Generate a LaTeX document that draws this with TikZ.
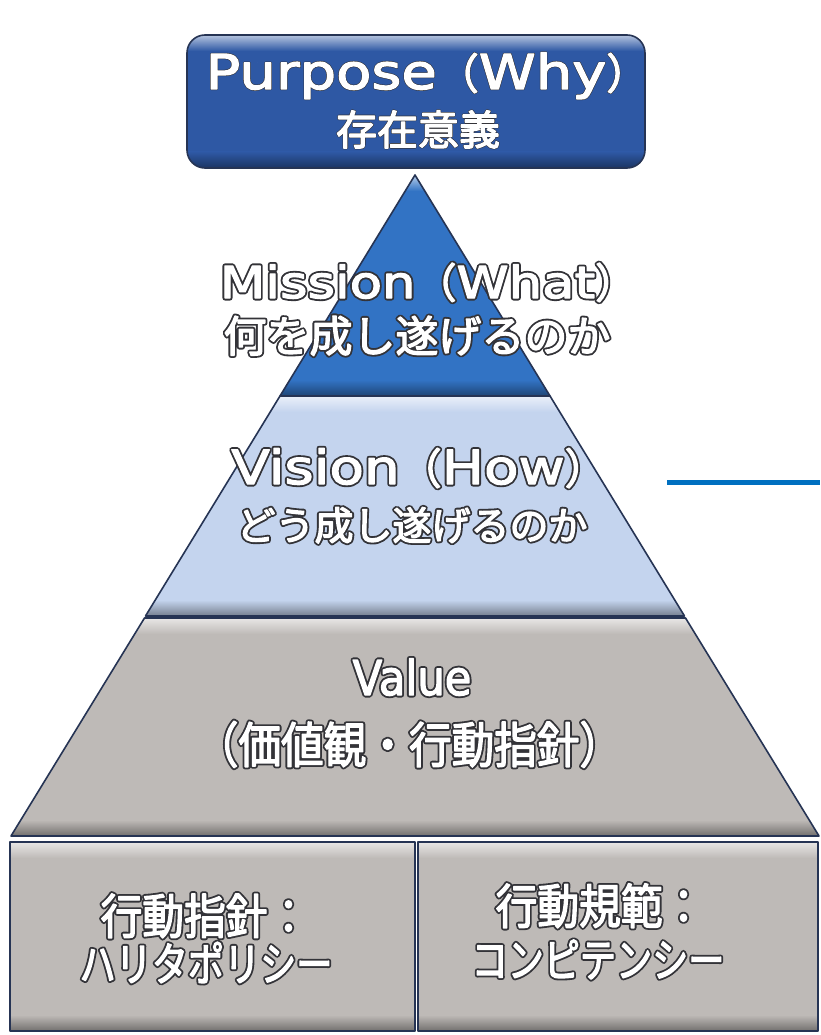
\documentclass[tikz,border=0pt]{standalone}
\usepackage{fontspec}
\newfontfamily\cjk{Noto Sans CJK JP}
\newfontfamily\cjkn[FakeStretch=0.87]{Noto Sans CJK JP}
\newfontfamily\cjkk[FakeStretch=0.785]{Noto Sans CJK JP}
\newfontfamily\lat[FakeStretch=1.2]{DejaVu Sans}
\newfontfamily\latn[FakeStretch=0.9]{DejaVu Sans}
% white lettering with a dark rim: a wide dark stroke underneath,
% then the glyphs filled white and thickened a little with a white stroke
\newcommand\olx[2][5]{\rlap{\special{pdf:literal direct 1 Tr #1 w 1 j 0.2 0.2 0.22 RG}#2\special{pdf:literal direct 0 Tr}}\special{pdf:literal direct 2 Tr 1.3 w 1 j 1 1 1 RG}#2\special{pdf:literal direct 0 Tr 0.4 w}}
\definecolor{purposeblue}{RGB}{46,88,164}
\definecolor{missionblue}{RGB}{50,115,196}
\definecolor{visionblue}{RGB}{196,212,238}
\definecolor{valuegray}{RGB}{190,186,183}
\definecolor{edgenavy}{RGB}{38,52,84}
\definecolor{lineblue}{RGB}{0,112,192}
\tikzset{
  lbl/.style={anchor=base, text=white, inner sep=0pt},
  rim/.style={draw=edgenavy, line width=1.6pt, line join=round},
}
% fill a closed path and give it a bevelled look (light top band, dark bottom band)
\newcommand\bevelshape[6]{% path, colour, xmin, xmax, ytop, ybot
  \fill[#2] #1;
  \begin{scope}
    \clip #1;
    \shade[top color=#2!35!white, bottom color=#2] (#3,#5) rectangle (#4,#5+16);
    \shade[top color=#2, bottom color=#2!60!black] (#3,#6-16) rectangle (#4,#6);
  \end{scope}
  \draw[rim] #1;
}
\begin{document}
\begin{tikzpicture}[x=1pt,y=-1pt]
\useasboundingbox (0,0) rectangle (820,1035);
\fill[white] (0,0) rectangle (820,1035);

% corner points of the pyramid
\coordinate (apex) at (415,175);
\coordinate (mL) at (280,396);   \coordinate (mR) at (550,396);
\coordinate (vL) at (145.5,616); \coordinate (vR) at (684.5,616);
\coordinate (wL) at (144.5,618); \coordinate (wR) at (685.5,618);
\coordinate (bL) at (11,836);    \coordinate (bR) at (819,836);

% Purpose box
\bevelshape{[rounded corners=18pt] (187,35) rectangle (645,168)}{purposeblue}{187}{645}{35}{168}

% Mission
\bevelshape{(apex) -- (mR) -- (mL) -- cycle}{missionblue}{280}{550}{175}{396}
% Vision
\bevelshape{(mL) -- (mR) -- (vR) -- (vL) -- cycle}{visionblue}{145}{685}{396}{616}
% Value
\bevelshape{(wL) -- (wR) -- (bR) -- (bL) -- cycle}{valuegray}{11}{819}{618}{836}
% the two base boxes
\bevelshape{(10,842) rectangle (415,1031)}{valuegray}{10}{415}{842}{1031}
\bevelshape{(418,842) rectangle (818,1031)}{valuegray}{418}{818}{842}{1031}

% side rule
\coordinate (ruleA) at (667,482);
\coordinate (ruleB) at (820,482);
\draw[lineblue, line width=5pt] (ruleA) -- (ruleB);

% labels
\node[lbl] (pur1) at (427,89) {\olx[2.4]{\fontsize{48}{50}\lat Purpose\fontsize{42}{50}\cjk（\fontsize{48}{50}\lat Why\fontsize{42}{50}\cjk）}};
\node[lbl] (pur2) at (418,145) {\olx[2.4]{\fontsize{41}{48}\cjk 存在意義}};

\node[lbl] (mis1) at (428,298) {\olx{\fontsize{44}{50}\lat Mission\fontsize{41}{50}\cjk（\fontsize{44}{50}\lat What\fontsize{41}{50}\cjk）}};
\node[lbl] (mis2) at (417,352) {\olx{\fontsize{43}{50}\cjk 何を成し遂げるのか}};

\node[lbl] (vis1) at (419,484) {\olx{\fontsize{47}{50}\lat Vision\fontsize{42}{50}\cjk（\fontsize{47}{50}\lat How\fontsize{42}{50}\cjk）}};
\node[lbl] (vis2) at (412,540) {\olx{\fontsize{39}{50}\cjk どう成し遂げるのか}};

\node[lbl] (val1) at (412,695) {\olx{\fontsize{48}{50}\latn Value}};
\node[lbl] (val2) at (409,763) {\olx{\fontsize{49}{50}\cjkn （価値観・行動指針）}};

\node[lbl] (pol1) at (205,934) {\olx{\fontsize{48}{50}\cjkn 行動指針：}};
\node[lbl] (pol2) at (206,981) {\olx{\fontsize{46}{50}\cjkk ハリタポリシー}};

\node[lbl] (com1) at (600,924) {\olx{\fontsize{48}{50}\cjkn 行動規範：}};
\node[lbl] (com2) at (598,977) {\olx{\fontsize{46}{50}\cjkk コンピテンシー}};
\end{tikzpicture}
\end{document}
